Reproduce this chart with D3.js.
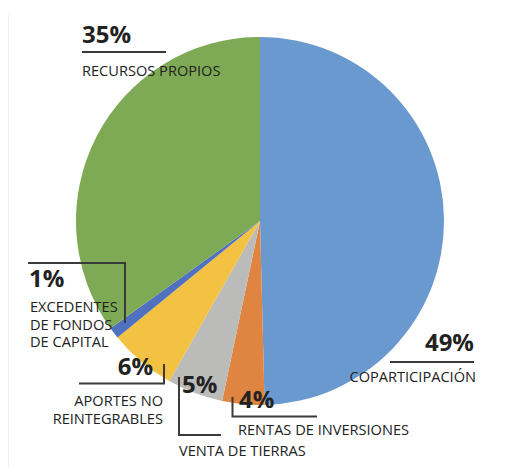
<!DOCTYPE html>
<html>
<head>
<meta charset="utf-8">
<script src="https://cdn.jsdelivr.net/npm/d3@7"></script>
<style>
  html, body { margin: 0; padding: 0; background: #fff; }
  svg { display: block; }
  .pct { font-family: "Open Sans", "Noto Sans", sans-serif; font-weight: 700; font-size: 24px; fill: #222; }
  .lbl { font-family: "Open Sans", "Noto Sans", sans-serif; font-size: 14.6px; fill: #222; }
  .leader { fill: none; stroke: #3a3a3a; stroke-width: 2; }
</style>
</head>
<body>
<svg id="chart" width="528" height="467"></svg>
<script>
// slice data, clockwise from 12 o'clock
const categories = ['COPARTICIPACIÓN', 'RENTAS DE INVERSIONES', 'VENTA DE TIERRAS', 'APORTES NO REINTEGRABLES', 'EXCEDENTES DE FONDOS DE CAPITAL', 'RECURSOS PROPIOS'];
const values = [49.6, 3.7, 4.9, 5.9, 1.0, 34.9];
const pctLabels = ['49%', '4%', '5%', '6%', '1%', '35%'];
const colors = ['#6999cf', '#e08442', '#bbbbba', '#f4c242', '#5070c0', '#7eaa55'];

const width = 528;
const height = 467;
const cx = 260;
const cy = 221;
const radius = 184;

const svg = d3.select('#chart');

// faint frame edge on the left
svg.append('line')
  .attr('x1', 8.5).attr('x2', 8.5)
  .attr('y1', 15).attr('y2', height)
  .attr('stroke', '#eeeeee')
  .attr('stroke-width', 1);

const pie = d3.pie().sort(null).value(d => d);
const arc = d3.arc().innerRadius(0).outerRadius(radius);

svg.append('g')
  .attr('transform', `translate(${cx},${cy})`)
  .selectAll('path')
  .data(pie(values))
  .join('path')
  .attr('d', arc)
  .attr('fill', (d, i) => colors[i]);

// callout layout: percent text, label lines and leader polyline for each slice
const callouts = [
  { pct: [474, 351], anchor: 'end', lines: ['COPARTICIPACIÓN'], lbl: [476, 382], lh: 17.5,
    leader: [[390, 362], [474, 362]] },
  { pct: [239, 408], anchor: 'start', lines: ['RENTAS DE INVERSIONES'], lbl: [238, 435], lh: 17.5,
    leader: [[232.5, 397], [232.5, 416.5], [317, 416.5]] },
  { pct: [182, 393], anchor: 'start', lines: ['VENTA DE TIERRAS'], lbl: [179, 456], lh: 17.5,
    leader: [[179, 377], [179, 435], [221, 435]] },
  { pct: [153, 375], anchor: 'end', lines: ['APORTES NO', 'REINTEGRABLES'], lbl: [163, 406], lh: 17.5,
    leader: [[79, 383.5], [164, 383.5], [164, 364]] },
  { pct: [29, 287], anchor: 'start', lines: ['EXCEDENTES', 'DE FONDOS', 'DE CAPITAL'], lbl: [30, 312], lh: 17.5,
    leader: [[28, 263], [125, 263], [125, 323]] },
  { pct: [82, 43], anchor: 'start', lines: ['RECURSOS PROPIOS'], lbl: [82, 76], lh: 17.5,
    leader: [[82, 52], [166, 52]] }
];

const notes = svg.append('g').attr('class', 'callouts');
const line = d3.line();

callouts.forEach((c, i) => {
  notes.append('path').attr('class', 'leader').attr('d', line(c.leader));
  notes.append('text')
    .attr('class', 'pct')
    .attr('x', c.pct[0]).attr('y', c.pct[1])
    .attr('text-anchor', c.anchor)
    .text(pctLabels[i]);
  const t = notes.append('text')
    .attr('class', 'lbl')
    .attr('text-anchor', c.anchor);
  c.lines.forEach((s, j) => {
    t.append('tspan').attr('x', c.lbl[0]).attr('y', c.lbl[1] + j * c.lh).text(s);
  });
});
</script>
</body>
</html>
